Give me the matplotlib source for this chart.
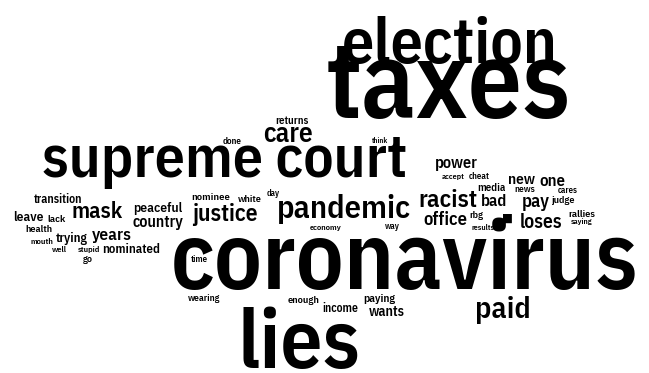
import matplotlib
matplotlib.use("Agg")
import matplotlib.pyplot as plt

# words of the cloud, biggest first
words = ["coronavirus", "taxes", "supreme court", "lies", "election", "pandemic",
         "paid", "justice", "racist", "care", "mask", "loses", "office", "pay",
         "power", "country", "peaceful", "nominated", "years", "bad", "new", "one",
         "trying", "wants", "income", "transition", "paying", "enough", "media",
         "nominee", "returns", "leave", "rallies", "judge", "health", "white",
         "wearing", "economy", "accept", "cheat", "news", "cares", "saying",
         "results", "lack", "mouth", "stupid", "done", "think", "rbg", "time",
         "well", "way", "day", "go", "\u25a0"]

# placement: left edge, right edge, baseline (pixels)
x_left = [170, 312, 23, 237, 342, 277, 475, 192, 418, 263, 72, 520, 423, 522,
          435, 132, 133, 102, 92, 481, 508, 539, 56, 369, 322, 33, 363, 288, 477,
          192, 275, 13, 568, 552, 25, 238, 188, 310, 442, 469, 514, 558, 571,
          472, 47, 30, 78, 223, 372, 469, 191, 52, 385, 267, 83, 502]
x_right = [640, 585, 425, 360, 558, 411, 530, 258, 477, 313, 123, 563, 467, 550,
           478, 183, 182, 160, 132, 507, 535, 565, 88, 405, 358, 82, 395, 320, 505,
           230, 308, 43, 595, 575, 52, 262, 220, 342, 465, 490, 535, 578, 593,
           495, 65, 53, 100, 242, 388, 483, 208, 67, 400, 280, 93, 513]
baseline = [289, 118, 177, 368, 63, 218, 318, 221, 207, 142, 218, 228, 225, 207,
            168, 227, 212, 253, 240, 206, 184, 186, 242, 316, 312, 203, 302, 303, 191,
            200, 124, 221, 217, 203, 232, 202, 301, 230, 179, 179, 192, 193, 224,
            230, 222, 244, 252, 144, 143, 218, 262, 252, 229, 196, 262, 222]
# x-height (px) of the biggest words, same order as words
x_height = [55, 50, 28, 53, 38, 18, 18]

FONT = ["IBM Plex Sans Condensed", "DejaVu Sans"]
XH = 0.516   # x-height / em of Plex Sans

fig = plt.figure(figsize=(6.49, 3.73), dpi=100)
ax = fig.add_axes([0, 0, 1, 1])
ax.set_xlim(0, 649)
ax.set_ylim(373, 0)
ax.axis("off")
renderer = fig.canvas.get_renderer()

for i, (w, x0, x1, yb) in enumerate(zip(words, x_left, x_right, baseline)):
    is_word = w.isalpha() or " " in w
    t = ax.text((x0 + x1) / 2, yb, w, fontsize=10, ha="center", va="baseline",
                family=FONT if is_word else ["DejaVu Sans"],
                weight=600 if is_word else "normal", color="black")
    width = t.get_window_extent(renderer).width
    size = 10 * (x1 - x0) / width          # fit the width of its slot
    if i < len(x_height):
        # big words: meet the measured height halfway, never wider than the slot
        size_h = x_height[i] / XH * 0.72
        size = min(size, (size * size_h) ** 0.5)
    t.set_fontsize(size)

fig.savefig("out.png", dpi=100, facecolor="white")
